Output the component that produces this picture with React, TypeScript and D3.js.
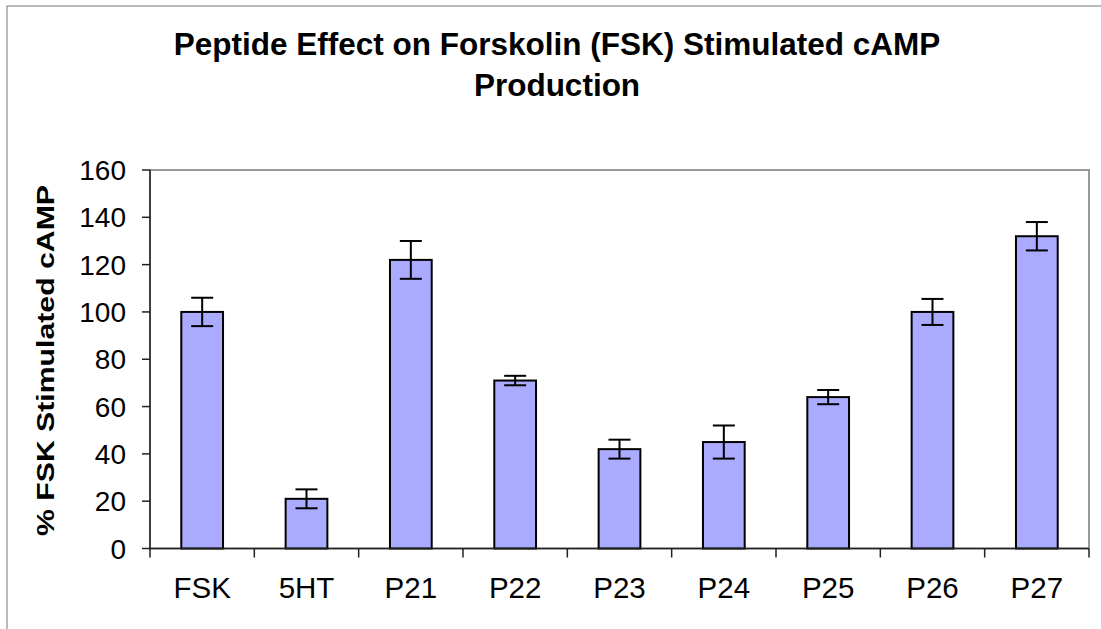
import React from "react";
import * as d3 from "d3";

const categories = ["FSK", "5HT", "P21", "P22", "P23", "P24", "P25", "P26", "P27"];
const values = [100, 21, 122, 71, 42, 45, 64, 100, 132];
const errors = [6, 4, 8, 2, 4, 7, 3, 5.5, 6];
const yTicks = [0, 20, 40, 60, 80, 100, 120, 140, 160];

export default function App() {
  const W = 1101, H = 629;
  const left = 150, right = 1089, top = 170, bottom = 548.5;
  const x = d3.scaleBand<string>().domain(categories).range([left, right]).paddingInner(0.6).paddingOuter(0.3);
  const band = d3.scaleBand<string>().domain(categories).range([left, right]);
  const y = d3.scaleLinear().domain([0, 160]).range([bottom, top]);
  const font = "'Liberation Sans', Arial, sans-serif";
  const capW = 11;
  return (
    <svg width={W} height={H} style={{ position: "absolute", left: 0, top: 0 }} fontFamily={font}>
      <rect x={0} y={0} width={W} height={H} fill="#fff" />
      <rect x={7} y={6} width={W + 10} height={H + 10} fill="none" stroke="#777" strokeWidth={1} />
      <text x={557} y={54.5} textAnchor="middle" fontSize={31.5} fontWeight="bold">Peptide Effect on Forskolin (FSK) Stimulated cAMP</text>
      <text x={557} y={96} textAnchor="middle" fontSize={31.5} fontWeight="bold">Production</text>
      <rect x={left} y={top} width={right - left} height={bottom - top} fill="#fff" stroke="#999" strokeWidth={2} />
      {categories.map((c, i) => {
        const bx = x(c)!;
        const bw = x.bandwidth();
        const cx = bx + bw / 2;
        return (
          <g key={c}>
            <rect x={bx} y={y(values[i])} width={bw} height={bottom - y(values[i])} fill="#aaaaff" stroke="#000" strokeWidth={2} />
            <line x1={cx} x2={cx} y1={y(values[i] + errors[i])} y2={y(values[i] - errors[i])} stroke="#000" strokeWidth={2} />
            <line x1={cx - capW} x2={cx + capW} y1={y(values[i] + errors[i])} y2={y(values[i] + errors[i])} stroke="#000" strokeWidth={2} />
            <line x1={cx - capW} x2={cx + capW} y1={y(values[i] - errors[i])} y2={y(values[i] - errors[i])} stroke="#000" strokeWidth={2} />
            <text x={band(c)! + band.bandwidth() / 2} y={598} textAnchor="middle" fontSize={29.5}>{c}</text>
          </g>
        );
      })}
      <line x1={left} x2={left} y1={top} y2={bottom} stroke="#222" strokeWidth={1.5} />
      <line x1={left} x2={right} y1={bottom} y2={bottom} stroke="#222" strokeWidth={1.5} />
      {yTicks.map((t) => (
        <g key={t}>
          <line x1={left - 8} x2={left} y1={y(t)} y2={y(t)} stroke="#222" strokeWidth={1.5} />
          <text x={126} y={y(t) + 10} textAnchor="end" fontSize={28}>{t}</text>
        </g>
      ))}
      {categories.map((c, i) => (
        <line key={"t" + i} x1={band(c)!} x2={band(c)!} y1={bottom} y2={bottom + 9} stroke="#222" strokeWidth={1.5} />
      ))}
      <line x1={right} x2={right} y1={bottom} y2={bottom + 9} stroke="#222" strokeWidth={1.5} />
      <text transform={`translate(53.5, 360.5) rotate(-90)`} textAnchor="middle" fontSize={24} fontWeight="bold" textLength={351} lengthAdjust="spacingAndGlyphs">% FSK Stimulated cAMP</text>
    </svg>
  );
}
